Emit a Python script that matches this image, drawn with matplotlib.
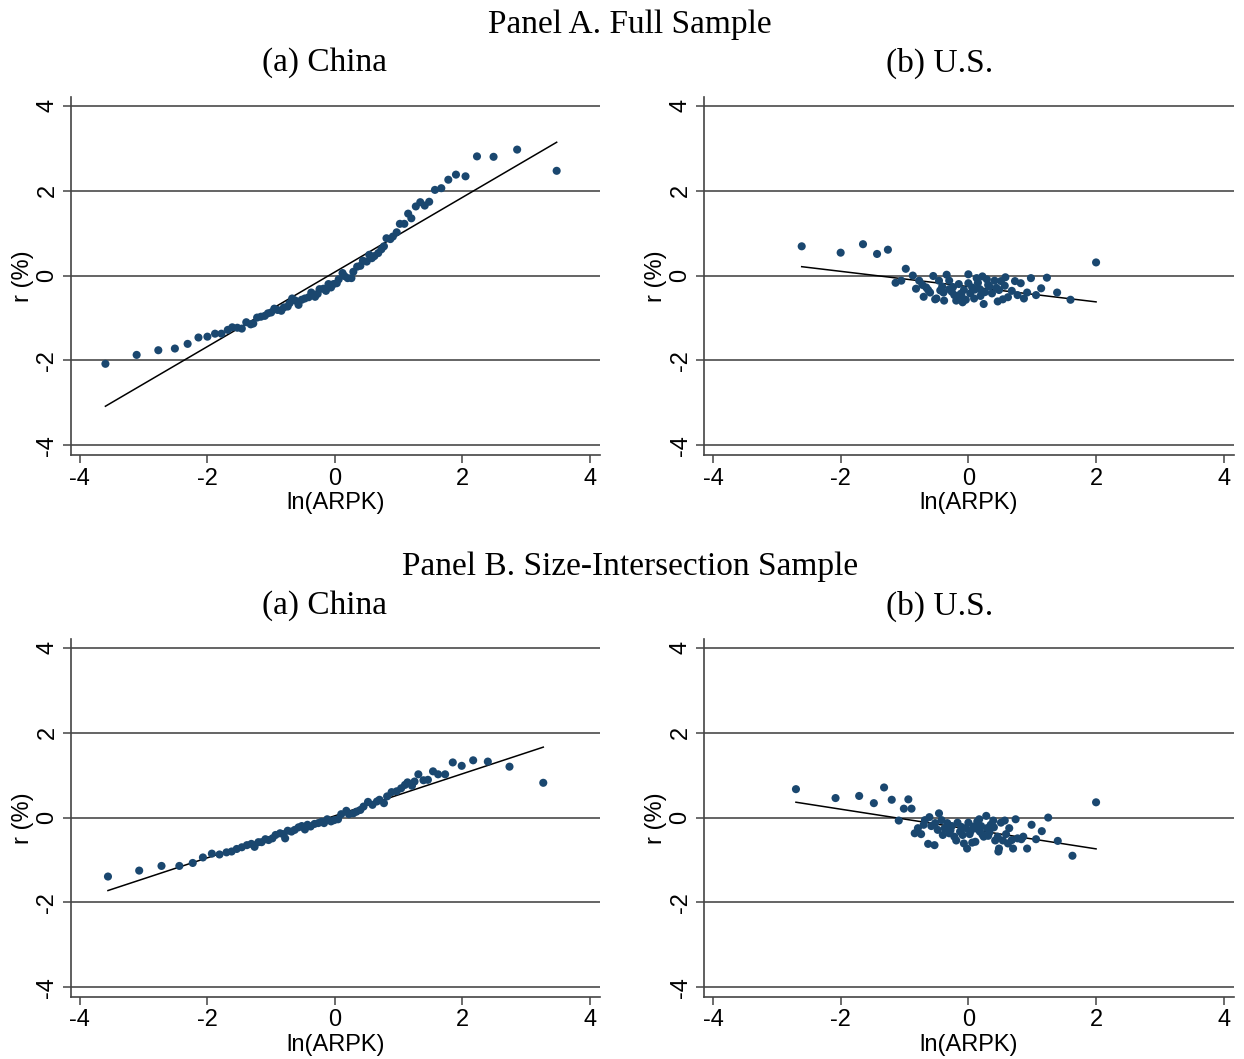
'''Binned scatter of r (%) against ln(ARPK), China vs U.S., two samples.'''

import numpy as np
import matplotlib
matplotlib.use('Agg')
import matplotlib.pyplot as plt

# Panel A, China: binned means
a_cn_x=[-3.60, -3.11, -2.77, -2.51, -2.31, -2.14, -2.00, -1.88, -1.78, -1.68,
        -1.61, -1.53, -1.46, -1.39, -1.32, -1.28, -1.22, -1.16, -1.10, -1.05,
        -1.00, -0.95, -0.90, -0.84, -0.80, -0.74, -0.71, -0.67, -0.62, -0.57,
        -0.52, -0.47, -0.41, -0.37, -0.31, -0.27, -0.24, -0.18, -0.14, -0.10,
        -0.06, -0.02, 0.03, 0.06, 0.12, 0.15, 0.20, 0.26, 0.29, 0.35,
        0.40, 0.44, 0.50, 0.54, 0.58, 0.62, 0.68, 0.73, 0.77, 0.81,
        0.87, 0.91, 0.97, 1.02, 1.09, 1.15, 1.20, 1.27, 1.34, 1.41,
        1.48, 1.57, 1.67, 1.78, 1.90, 2.05, 2.23, 2.49, 2.86, 3.48]
a_cn_y=[-2.08, -1.87, -1.76, -1.72, -1.61, -1.46, -1.44, -1.37, -1.37, -1.28,
        -1.22, -1.23, -1.25, -1.10, -1.15, -1.13, -0.99, -0.97, -0.95, -0.89,
        -0.87, -0.78, -0.81, -0.83, -0.75, -0.73, -0.65, -0.54, -0.59, -0.69,
        -0.57, -0.54, -0.51, -0.40, -0.50, -0.43, -0.32, -0.31, -0.36, -0.20,
        -0.28, -0.20, -0.18, -0.09, 0.06, -0.01, -0.06, -0.06, 0.09, 0.21,
        0.23, 0.35, 0.33, 0.49, 0.41, 0.46, 0.53, 0.62, 0.69, 0.88,
        0.86, 0.92, 1.02, 1.22, 1.22, 1.46, 1.35, 1.63, 1.73, 1.65,
        1.74, 2.02, 2.06, 2.26, 2.38, 2.34, 2.81, 2.80, 2.97, 2.47]
a_cn_fit=[0.879, 0.084]   # slope, intercept

# Panel A, U.S.
a_us_x=[-2.61, -2.00, -1.65, -1.43, -1.26, -0.98, -1.14, -1.05, -0.87, -0.77,
        -0.82, -0.70, -0.72, -0.63, -0.60, -0.55, -0.52, -0.50, -0.46, -0.41,
        -0.39, -0.38, -0.34, -0.30, -0.30, -0.26, -0.22, -0.19, -0.15, -0.12,
        -0.09, -0.07, -0.04, 0.00, 0.00, 0.03, 0.06, 0.09, 0.13, 0.15,
        0.18, 0.22, 0.24, 0.26, 0.29, 0.33, 0.37, 0.41, 0.46, 0.48,
        0.51, 0.54, 0.58, 0.57, 0.62, 0.68, 0.73, 0.77, 0.82, 0.87,
        0.92, 0.98, 1.06, 1.14, 1.23, 1.39, 1.60, 2.00,
        -0.66, -0.44, -0.24, -0.11, 0.10, 0.19, 0.31, 0.44]
a_us_y=[0.69, 0.54, 0.74, 0.51, 0.61, 0.16, -0.17, -0.12, 0.00, -0.12,
        -0.31, -0.50, -0.22, -0.34, -0.40, -0.01, -0.56, -0.54, -0.12, -0.26,
        -0.40, -0.59, 0.02, -0.12, -0.32, -0.38, -0.46, -0.59, -0.20, -0.43,
        -0.63, -0.34, -0.57, 0.03, -0.18, -0.42, -0.28, -0.54, -0.06, -0.17,
        -0.32, -0.02, -0.67, -0.39, -0.09, -0.26, -0.42, -0.12, -0.61, -0.34,
        -0.13, -0.56, -0.04, -0.24, -0.51, -0.36, -0.13, -0.46, -0.18, -0.54,
        -0.40, -0.06, -0.46, -0.30, -0.05, -0.40, -0.57, 0.31,
        -0.28, -0.35, -0.27, -0.47, -0.33, -0.48, -0.22, -0.29]
a_us_fit=[-0.180, -0.26]

# Panel B, China
b_cn_x=[-3.56, -3.07, -2.72, -2.44, -2.23, -2.07, -1.93, -1.81, -1.70, -1.62,
        -1.54, -1.46, -1.38, -1.31, -1.26, -1.20, -1.15, -1.09, -1.04, -0.98,
        -0.93, -0.86, -0.78, -0.81, -0.74, -0.68, -0.63, -0.57, -0.52, -0.47,
        -0.43, -0.38, -0.32, -0.26, -0.21, -0.17, -0.12, -0.06, -0.01, 0.05,
        0.10, 0.18, 0.22, 0.29, 0.34, 0.40, 0.45, 0.52, 0.59, 0.66,
        0.70, 0.77, 0.82, 0.89, 0.97, 1.04, 1.10, 1.14, 1.21, 1.25,
        1.31, 1.39, 1.46, 1.54, 1.62, 1.73, 1.85, 1.99, 2.17, 2.40,
        2.74, 3.27]
b_cn_y=[-1.39, -1.25, -1.14, -1.14, -1.07, -0.94, -0.85, -0.87, -0.82, -0.80,
        -0.74, -0.70, -0.65, -0.62, -0.69, -0.58, -0.58, -0.51, -0.53, -0.49,
        -0.41, -0.37, -0.49, -0.39, -0.31, -0.33, -0.29, -0.23, -0.20, -0.28,
        -0.17, -0.21, -0.15, -0.13, -0.10, -0.13, -0.04, -0.09, -0.06, -0.04,
        0.08, 0.16, 0.08, 0.10, 0.14, 0.18, 0.26, 0.37, 0.30, 0.38,
        0.42, 0.34, 0.50, 0.60, 0.62, 0.69, 0.77, 0.83, 0.75, 0.85,
        1.02, 0.88, 0.89, 1.09, 1.02, 1.02, 1.30, 1.22, 1.35, 1.32,
        1.20, 0.82]
b_cn_fit=[0.495, 0.042]

# Panel B, U.S.
b_us_x=[-2.70, -2.08, -1.71, -1.48, -1.32, -1.20, -0.94, -1.01, -0.89, -1.09,
        -0.84, -0.79, -0.74, -0.70, -0.68, -0.63, -0.61, -0.58, -0.53, -0.52,
        -0.48, -0.46, -0.42, -0.40, -0.37, -0.33, -0.30, -0.26, -0.22, -0.19,
        -0.17, -0.13, -0.09, -0.07, -0.04, -0.02, 0.00, 0.02, 0.06, 0.08,
        0.11, 0.14, 0.17, 0.18, 0.20, 0.24, 0.28, 0.29, 0.31, 0.35,
        0.39, 0.40, 0.42, 0.46, 0.47, 0.48, 0.51, 0.54, 0.57, 0.59,
        0.62, 0.64, 0.68, 0.70, 0.74, 0.77, 0.83, 0.86, 0.92, 0.99,
        1.06, 1.15, 1.25, 1.40, 1.63, 2.00,
        -0.28, -0.11, 0.04, 0.13, 0.22, 0.33]
b_us_y=[0.67, 0.46, 0.51, 0.34, 0.71, 0.42, 0.43, 0.21, 0.21, -0.07,
        -0.37, -0.25, -0.39, -0.17, -0.06, -0.62, 0.01, -0.20, -0.65, -0.13,
        -0.29, 0.10, -0.06, -0.41, -0.25, -0.13, -0.37, -0.20, -0.45, -0.54,
        -0.12, -0.33, -0.41, -0.61, -0.25, -0.73, -0.12, -0.39, -0.59, -0.21,
        -0.57, -0.09, -0.04, -0.33, -0.20, -0.45, 0.04, -0.25, -0.43, -0.17,
        -0.07, -0.23, -0.54, -0.45, -0.80, -0.73, -0.12, -0.54, -0.07, -0.39,
        -0.61, -0.25, -0.53, -0.73, -0.04, -0.49, -0.51, -0.45, -0.73, -0.17,
        -0.51, -0.32, 0.00, -0.55, -0.90, 0.36,
        -0.30, -0.22, -0.31, -0.26, -0.40, -0.35]
b_us_fit=[-0.234, -0.27]

ticks=[-4, -2, 0, 2, 4]
W, H=1244, 1059
NAVY='#1a476f'
SERIF='Liberation Serif'
SANS='Liberation Sans'


def ax_at(left, top, right, bottom):
    '''Axes placed by pixel edges.'''
    return fig.add_axes([left / W, 1 - bottom / H, (right - left) / W, (bottom - top) / H])


def draw_panel(ax, xs, ys, fit):
    '''Scatter, fitted line and Stata-like axes.'''
    xs=np.array(xs)
    ys=np.array(ys)
    for t in ticks:
        ax.axhline(t, color='#3a3a3a', lw=1.1, zorder=1)
    xf=np.array([xs.min(), xs.max()])
    ax.plot(xf, fit[0] * xf + fit[1], color='black', lw=1.1, zorder=3)
    ax.scatter(xs, ys, s=34, color=NAVY, edgecolors='none', zorder=4)

    ax.set_xlim(-4.14, 4.16)
    ax.set_ylim(-4.23, 4.21)
    ax.set_xticks(ticks)
    ax.set_yticks(ticks)
    ax.set_xticklabels([str(t) for t in ticks], family=SANS, fontsize=17)
    ax.set_yticklabels([str(t) for t in ticks], family=SANS, fontsize=17,
                       rotation=90, va='center')
    ax.tick_params(axis='both', direction='out', length=6, width=1.1,
                   color='#444444', pad=3)
    for side in ['top', 'right']:
        ax.spines[side].set_visible(False)
    for side in ['left', 'bottom']:
        ax.spines[side].set_color('#444444')
        ax.spines[side].set_linewidth(1.2)
    ax.set_xlabel('ln(ARPK)', family=SANS, fontsize=17, labelpad=2)
    ax.set_ylabel('r (%)', family=SANS, fontsize=17, labelpad=2)


fig=plt.figure(figsize=(W / 100, H / 100), dpi=100)

ax1=ax_at(71, 97, 600, 455)
draw_panel(ax1, a_cn_x, a_cn_y, a_cn_fit)
ax2=ax_at(704, 97, 1234, 455)
draw_panel(ax2, a_us_x, a_us_y, a_us_fit)
ax3=ax_at(71, 639, 600, 997)
draw_panel(ax3, b_cn_x, b_cn_y, b_cn_fit)
ax4=ax_at(704, 639, 1234, 997)
draw_panel(ax4, b_us_x, b_us_y, b_us_fit)

# Panel and sub-panel titles
titles=[('Panel A. Full Sample', 630, 25), ('(a) China', 325, 63), ('(b) U.S.', 940, 63),
        ('Panel B. Size-Intersection Sample', 630, 567), ('(a) China', 325, 606),
        ('(b) U.S.', 940, 606)]
for txt, px, py in titles:
    fig.text(px / W, 1 - py / H, txt, family=SERIF, fontsize=24,
             ha='center', va='center')

fig.savefig('out.png', dpi=100)
